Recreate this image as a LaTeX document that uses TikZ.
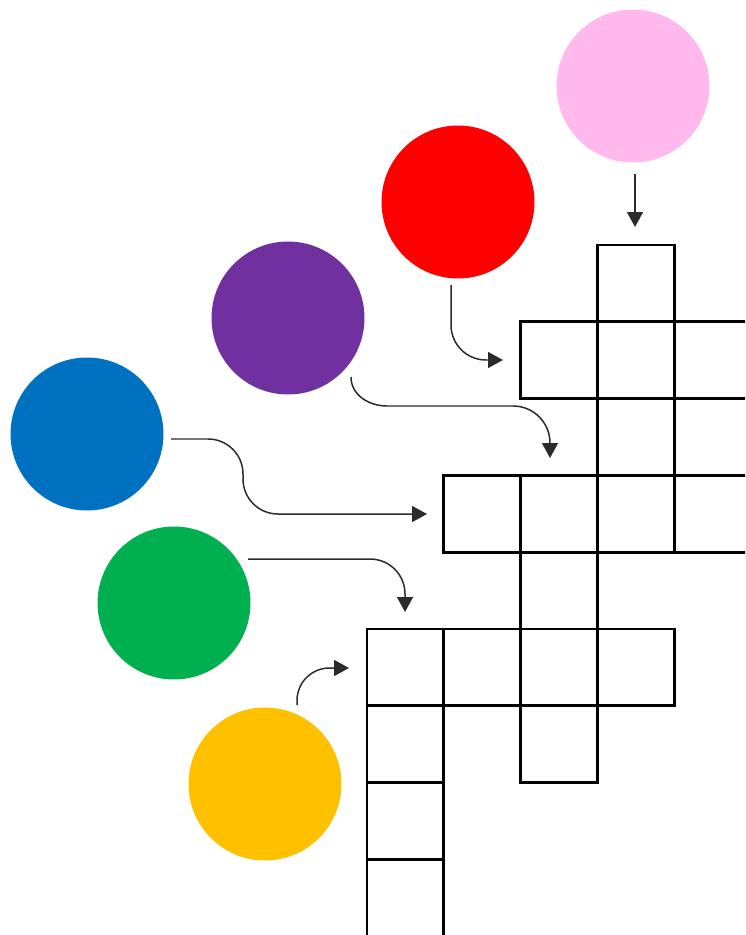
\documentclass[tikz,border=0pt]{standalone}
\usetikzlibrary{arrows.meta}

\definecolor{dotpink}{HTML}{FFB9EC}
\definecolor{dotred}{HTML}{FF0000}
\definecolor{dotpurple}{HTML}{7030A0}
\definecolor{dotblue}{HTML}{0070C0}
\definecolor{dotgreen}{HTML}{00B050}
\definecolor{dotyellow}{HTML}{FFC000}
\definecolor{arrowgray}{HTML}{2B2B2B}

\begin{document}
\begin{tikzpicture}[x=0.02cm,y=-0.02cm,
  dot/.style={circle,inner sep=0pt,minimum size=3.06cm},
  cell/.style={draw=black,line width=1.5pt,inner sep=0pt,minimum size=1.536cm},
  arr/.style={draw=arrowgray,line width=0.85pt,-{Triangle[length=0.3cm,width=0.32cm]}}]
\useasboundingbox (0,0) rectangle (745,935);
\clip (0,0) rectangle (745,935);

% circles
\node[dot,fill=dotpink] (pink) at (633,86) {};
\node[dot,fill=dotred] (red) at (458,202) {};
\node[dot,fill=dotpurple] (purple) at (288,318) {};
\node[dot,fill=dotblue] (blue) at (87,434) {};
\node[dot,fill=dotgreen] (green) at (174,603) {};
\node[dot,fill=dotyellow] (yellow) at (265,784) {};

% grid
\foreach \i/\j in {3/0,2/1,3/1,4/1,3/2,1/3,2/3,3/3,4/3,2/4,0/5,1/5,2/5,3/5,0/6,2/6,0/7,0/8}
  \node[cell] (c\i\j) at ({405.4+76.8*\i},{283.4+76.8*\j}) {};

% arrow ends
\coordinate (pink-out) at (635,174);
\coordinate (pink-in) at (635,227);
\coordinate (red-out) at (451,285);
\coordinate (red-in) at (503,360);
\coordinate (purple-out) at (351,377);
\coordinate (purple-in) at (550,458);
\coordinate (blue-out) at (171,439);
\coordinate (blue-in) at (427,514);
\coordinate (green-out) at (248,559);
\coordinate (green-in) at (405,612);
\coordinate (yellow-out) at (297,705);
\coordinate (yellow-in) at (349,668);

\draw[arr] (pink-out) -- (pink-in);
\draw[arr,rounded corners=0.7cm] (red-out) |- (red-in);
\draw[arr] (purple-out) to[out=-90,in=180] (387,406) -- (513,406) to[out=0,in=90] (550,443) -- (purple-in);
\draw[arr,rounded corners=0.7cm] (blue-out) -- (243,439) -- (243,514) -- (blue-in);
\draw[arr,rounded corners=0.7cm] (green-out) -| (green-in);
\draw[arr,rounded corners=0.65cm] (yellow-out) |- (yellow-in);
\end{tikzpicture}
\end{document}
